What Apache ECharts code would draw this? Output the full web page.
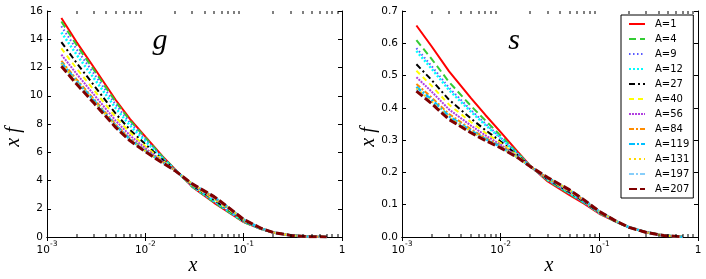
<!DOCTYPE html>
<html><head><meta charset="utf-8">
<script src="https://cdn.jsdelivr.net/npm/echarts/dist/echarts.min.js"></script>
<style>html,body{margin:0;padding:0;background:#fff}#c{width:706px;height:279px}</style>
</head><body><div id="c"></div>
<script>
// ---------------- data ----------------
const names = ['A=1','A=4','A=9','A=12','A=27','A=40','A=56','A=84','A=119','A=131','A=197','A=207'];
const xs = [0.0014, 0.002, 0.003, 0.005, 0.007, 0.01, 0.015, 0.02, 0.03, 0.05, 0.07, 0.1, 0.15, 0.2, 0.3, 0.45, 0.7];

const gA1   = [15.5, 13.8, 12.0, 9.7, 8.35, 7.1, 5.7, 4.8, 3.55, 2.42, 1.75, 1.05, 0.56, 0.31, 0.12, 0.03, 0.002];
const gA4   = [15.26, 13.59, 11.82, 9.56, 8.24, 7.03, 5.67, 4.79, 3.56, 2.45, 1.77, 1.06, 0.56, 0.31, 0.12, 0.03, 0.002];
const gA9   = [14.92, 13.29, 11.57, 9.37, 8.09, 6.92, 5.62, 4.78, 3.59, 2.49, 1.81, 1.08, 0.57, 0.31, 0.119, 0.029, 0.002];
const gA12  = [14.48, 12.91, 11.24, 9.12, 7.89, 6.78, 5.56, 4.77, 3.61, 2.55, 1.86, 1.11, 0.58, 0.31, 0.118, 0.029, 0.002];
const gA27  = [13.80, 12.32, 10.74, 8.73, 7.58, 6.57, 5.47, 4.75, 3.66, 2.64, 1.93, 1.14, 0.59, 0.32, 0.117, 0.028, 0.002];
const gA40  = [13.35, 11.93, 10.41, 8.48, 7.38, 6.43, 5.41, 4.74, 3.68, 2.69, 1.97, 1.17, 0.60, 0.32, 0.116, 0.028, 0.002];
const gA56  = [12.91, 11.55, 10.08, 8.23, 7.18, 6.29, 5.35, 4.73, 3.71, 2.75, 2.02, 1.19, 0.60, 0.32, 0.115, 0.027, 0.002];
const gA84  = [12.47, 11.16, 9.76, 7.97, 6.97, 6.15, 5.29, 4.71, 3.74, 2.81, 2.06, 1.22, 0.61, 0.32, 0.115, 0.027, 0.002];
const gA119 = [12.33, 11.04, 9.66, 7.90, 6.91, 6.11, 5.28, 4.71, 3.75, 2.83, 2.08, 1.23, 0.61, 0.32, 0.114, 0.027, 0.002];
const gA131 = [12.26, 10.98, 9.61, 7.86, 6.88, 6.09, 5.27, 4.71, 3.75, 2.83, 2.08, 1.23, 0.61, 0.32, 0.114, 0.027, 0.002];
const gA197 = [12.16, 10.89, 9.53, 7.80, 6.84, 6.06, 5.25, 4.71, 3.76, 2.85, 2.09, 1.24, 0.61, 0.32, 0.114, 0.026, 0.002];
const gA207 = [12.09, 10.83, 9.48, 7.76, 6.81, 6.04, 5.24, 4.70, 3.76, 2.86, 2.10, 1.24, 0.62, 0.32, 0.114, 0.026, 0.002];

const sA1   = [0.655, 0.590, 0.513, 0.430, 0.378, 0.325, 0.263, 0.220, 0.172, 0.130, 0.103, 0.072, 0.046, 0.030, 0.015, 0.0050, 0.0005];
const sA4   = [0.610, 0.551, 0.480, 0.406, 0.361, 0.314, 0.259, 0.220, 0.175, 0.133, 0.106, 0.074, 0.046, 0.030, 0.015, 0.0049, 0.0005];
const sA9   = [0.585, 0.529, 0.462, 0.393, 0.351, 0.308, 0.257, 0.219, 0.176, 0.135, 0.107, 0.074, 0.047, 0.030, 0.015, 0.0048, 0.0005];
const sA12  = [0.576, 0.521, 0.455, 0.388, 0.347, 0.306, 0.256, 0.219, 0.177, 0.136, 0.108, 0.075, 0.047, 0.030, 0.015, 0.0048, 0.0005];
const sA27  = [0.535, 0.486, 0.425, 0.367, 0.331, 0.296, 0.252, 0.219, 0.179, 0.139, 0.110, 0.076, 0.047, 0.030, 0.014, 0.0046, 0.0005];
const sA40  = [0.515, 0.468, 0.410, 0.356, 0.323, 0.291, 0.250, 0.218, 0.180, 0.141, 0.112, 0.077, 0.047, 0.030, 0.014, 0.0046, 0.0005];
const sA56  = [0.495, 0.450, 0.395, 0.345, 0.315, 0.286, 0.248, 0.218, 0.182, 0.142, 0.113, 0.078, 0.048, 0.030, 0.014, 0.0045, 0.0005];
const sA84  = [0.474, 0.432, 0.381, 0.334, 0.307, 0.282, 0.247, 0.218, 0.183, 0.144, 0.114, 0.078, 0.048, 0.030, 0.014, 0.0045, 0.0005];
const sA119 = [0.465, 0.425, 0.374, 0.329, 0.304, 0.279, 0.246, 0.218, 0.183, 0.145, 0.115, 0.079, 0.048, 0.030, 0.014, 0.0044, 0.0005];
const sA131 = [0.460, 0.420, 0.370, 0.327, 0.302, 0.278, 0.245, 0.218, 0.184, 0.145, 0.115, 0.079, 0.048, 0.030, 0.014, 0.0044, 0.0005];
const sA197 = [0.455, 0.416, 0.366, 0.324, 0.300, 0.277, 0.245, 0.218, 0.184, 0.145, 0.115, 0.079, 0.048, 0.030, 0.014, 0.0044, 0.0005];
const sA207 = [0.452, 0.413, 0.364, 0.323, 0.299, 0.276, 0.245, 0.218, 0.184, 0.146, 0.115, 0.079, 0.048, 0.030, 0.014, 0.0044, 0.0005];

const gSets = [gA1, gA4, gA9, gA12, gA27, gA40, gA56, gA84, gA119, gA131, gA197, gA207];
const sSets = [sA1, sA4, sA9, sA12, sA27, sA40, sA56, sA84, sA119, sA131, sA197, sA207];

const xMinorTicks = [0.002,0.003,0.004,0.005,0.006,0.007,0.008,0.009,
                     0.02,0.03,0.04,0.05,0.06,0.07,0.08,0.09,
                     0.2,0.3,0.4,0.5,0.6,0.7,0.8,0.9];

// ---------------- styles ----------------
const lineStyles = [
  {color:'#ff0000', type:'solid', width:2},
  {color:'#33cc33', type:[7,4], width:2},
  {color:'#5a5aff', type:[1.5,2.5], width:2},
  {color:'#00ffff', type:[2,2], width:2.5},
  {color:'#000000', type:[6,3,2,3], width:2},
  {color:'#ffff00', type:[5,4], width:2},
  {color:'#b040e0', type:[2,1], width:2},
  {color:'#ff8c00', type:[5,2,2,2], width:2},
  {color:'#00bfff', type:[6,2,2,2], width:2.5},
  {color:'#ffd700', type:[2,3], width:2},
  {color:'#87cefa', type:[5,2,2,2], width:2},
  {color:'#800000', type:[8,3], width:3}
];

const FONT = 'DejaVu Sans';
const grids = [
  {left:47, top:11, width:295, height:226},
  {left:402, top:11, width:296, height:226}
];

function xLabel(v){
  const e = Math.round(Math.log10(v));
  if (e === 0) return '{b|1}';
  return '{b|10}{s|' + e + '}';
}
const xRich = {
  b:{fontSize:10.5, fontFamily:FONT, color:'#000', lineHeight:16, verticalAlign:'bottom'},
  s:{fontSize:7.5, fontFamily:FONT, color:'#000', lineHeight:9, verticalAlign:'top'}
};

function makeX(gi, pos){
  const bottom = pos === 'bottom';
  return {
    type:'log', logBase:10, gridIndex:gi, position:pos, min:0.001, max:1,
    axisLine:{show:true, lineStyle:{color:'#000', width:1}},
    axisTick:{show:true, inside:true, length:4, lineStyle:{color:'#000'}},
    axisLabel:{show:bottom, margin:3, formatter:xLabel, rich:xRich},
    splitLine:{show:false}
  };
}
function makeY(gi, pos, max, interval, dec){
  const left = pos === 'left';
  return {
    type:'value', gridIndex:gi, position:pos, min:0, max:max, interval:interval,
    axisLine:{show:true, lineStyle:{color:'#000', width:1}},
    axisTick:{show:true, inside:true, length:4, lineStyle:{color:'#000'}},
    axisLabel:{show:left, margin:4, color:'#000', fontFamily:FONT, fontSize:10.5,
      formatter:(v)=> dec ? v.toFixed(1) : String(v)},
    splitLine:{show:false}
  };
}

const series = [];
[gSets, sSets].forEach((sets, gi)=>{
  sets.forEach((arr, i)=>{
    series.push({
      name:names[i], type:'line', xAxisIndex:gi*2, yAxisIndex:gi*2,
      data: xs.map((x,k)=>[x, arr[k]]),
      symbol:'none', showSymbol:false, smooth:false,
      lineStyle:lineStyles[i], itemStyle:{color:lineStyles[i].color},
      emphasis:{disabled:true}, z:2+i
    });
  });
  const yMax = gi === 0 ? 16 : 0.7;
  const tickData = [];
  xMinorTicks.forEach(x=>{ tickData.push([x, 0, 1]); tickData.push([x, yMax, -1]); });
  series.push({
    type:'custom', xAxisIndex:gi*2, yAxisIndex:gi*2, silent:true, z:30, clip:false,
    data: tickData,
    encode:{x:0, y:1},
    renderItem:(params, api)=>{
      const x = api.value(0), y = api.value(1), dir = api.value(2);
      const p = api.coord([x, y]);
      const px = Math.round(p[0]);
      const py = Math.round(p[1]);
      return {type:'rect',
        shape: dir > 0 ? {x:px-0.5, y:py-3, width:1, height:3} : {x:px-0.5, y:py, width:1, height:3},
        style:{fill:'#000'}};
    }
  });
});

const serif = '"Liberation Serif", "DejaVu Serif", serif';
const chart = echarts.init(document.getElementById('c'), null, {renderer:'canvas'});
chart.setOption({
  animation:false,
  backgroundColor:'#fff',
  grid:grids,
  xAxis:[makeX(0,'bottom'), makeX(0,'top'), makeX(1,'bottom'), makeX(1,'top')],
  yAxis:[makeY(0,'left',16,2,false), makeY(0,'right',16,2,false),
         makeY(1,'left',0.7,0.1,true), makeY(1,'right',0.7,0.1,true)],
  legend:{
    data:names, orient:'vertical', left:621, top:15,
    itemWidth:16, itemHeight:10, itemGap:5,
    padding:[4,4,4,7],
    backgroundColor:'#fff', borderColor:'#000', borderWidth:1, borderRadius:0,
    itemStyle:{color:'rgba(0,0,0,0)', borderColor:'rgba(0,0,0,0)', borderWidth:0, opacity:0},
    textStyle:{fontFamily:FONT, fontSize:10, color:'#000', padding:[0,0,0,5]},
    selectedMode:false
  },
  graphic:[
    {type:'text', x:160, y:41, style:{text:'g', font:'italic 30px '+serif, fill:'#000', align:'center', verticalAlign:'middle'}},
    {type:'text', x:514, y:41, style:{text:'s', font:'italic 30px '+serif, fill:'#000', align:'center', verticalAlign:'middle'}},
    {type:'text', x:193, y:266, style:{text:'x', font:'italic 20px '+serif, fill:'#000', align:'center', verticalAlign:'middle'}},
    {type:'text', x:549, y:266, style:{text:'x', font:'italic 20px '+serif, fill:'#000', align:'center', verticalAlign:'middle'}},
    {type:'text', x:14, y:137, rotation:Math.PI/2, style:{text:'x f', font:'italic 20px '+serif, fill:'#000', align:'center', verticalAlign:'middle'}},
    {type:'text', x:369, y:137, rotation:Math.PI/2, style:{text:'x f', font:'italic 20px '+serif, fill:'#000', align:'center', verticalAlign:'middle'}}
  ],
  series:series
});
</script></body></html>
